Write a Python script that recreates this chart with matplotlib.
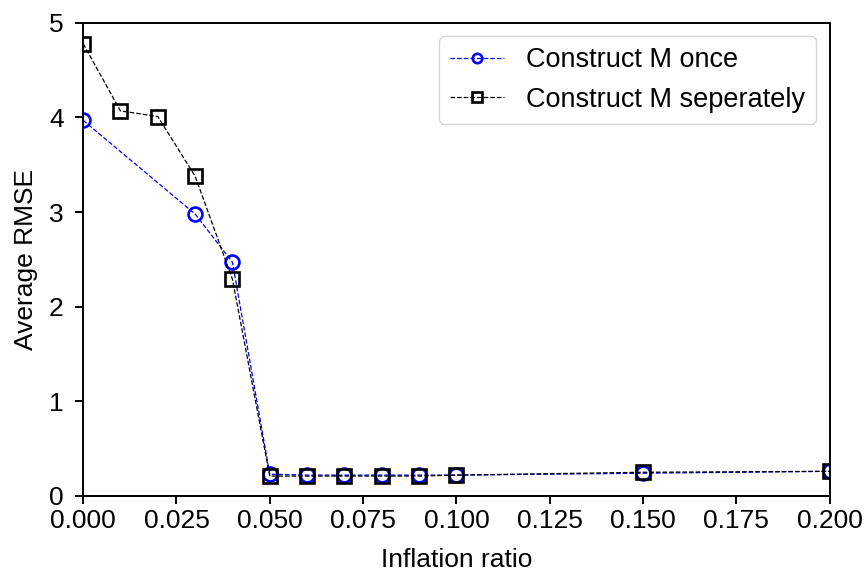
import matplotlib
matplotlib.use('Agg')
import matplotlib.pyplot as plt

plt.rcParams['font.family'] = ['Liberation Sans', 'DejaVu Sans']

# data
x_once = [0.0, 0.03, 0.04, 0.05, 0.06, 0.07, 0.08, 0.09, 0.10, 0.15, 0.20]
rmse_once = [3.97, 2.98, 2.47, 0.23, 0.22, 0.22, 0.22, 0.22, 0.22, 0.24, 0.26]

x_sep = [0.0, 0.01, 0.02, 0.03, 0.04, 0.05, 0.06, 0.07, 0.08, 0.09, 0.10, 0.15, 0.20]
rmse_sep = [4.78, 4.07, 4.01, 3.38, 2.29, 0.21, 0.21, 0.21, 0.21, 0.21, 0.22, 0.25, 0.26]

fs = 19

fig = plt.figure(figsize=(8.66, 5.72), dpi=100)
ax = fig.add_axes([0.096, 0.133, 0.862, 0.827])
ax.plot(x_once, rmse_once, 'bo--', markerfacecolor='none', markersize=10,
        markeredgewidth=1.9, linewidth=0.9, label='Construct M once')
ax.plot(x_sep, rmse_sep, 'ks--', markerfacecolor='none', markersize=10,
        markeredgewidth=1.9, linewidth=0.9, label='Construct M seperately')
ax.set_xlim(0, 0.2)
ax.set_ylim(0, 5)
ax.set_xlabel('Inflation ratio', fontsize=fs, labelpad=11)
ax.set_ylabel('Average RMSE', fontsize=fs, labelpad=8)
ax.tick_params(labelsize=fs, width=1.4, length=6)
ax.tick_params(axis='y', pad=8)
for sp in ax.spines.values():
    sp.set_linewidth(1.4)
ax.legend(fontsize=19.5, loc='upper right', markerscale=0.68)
fig.savefig('out.png')
